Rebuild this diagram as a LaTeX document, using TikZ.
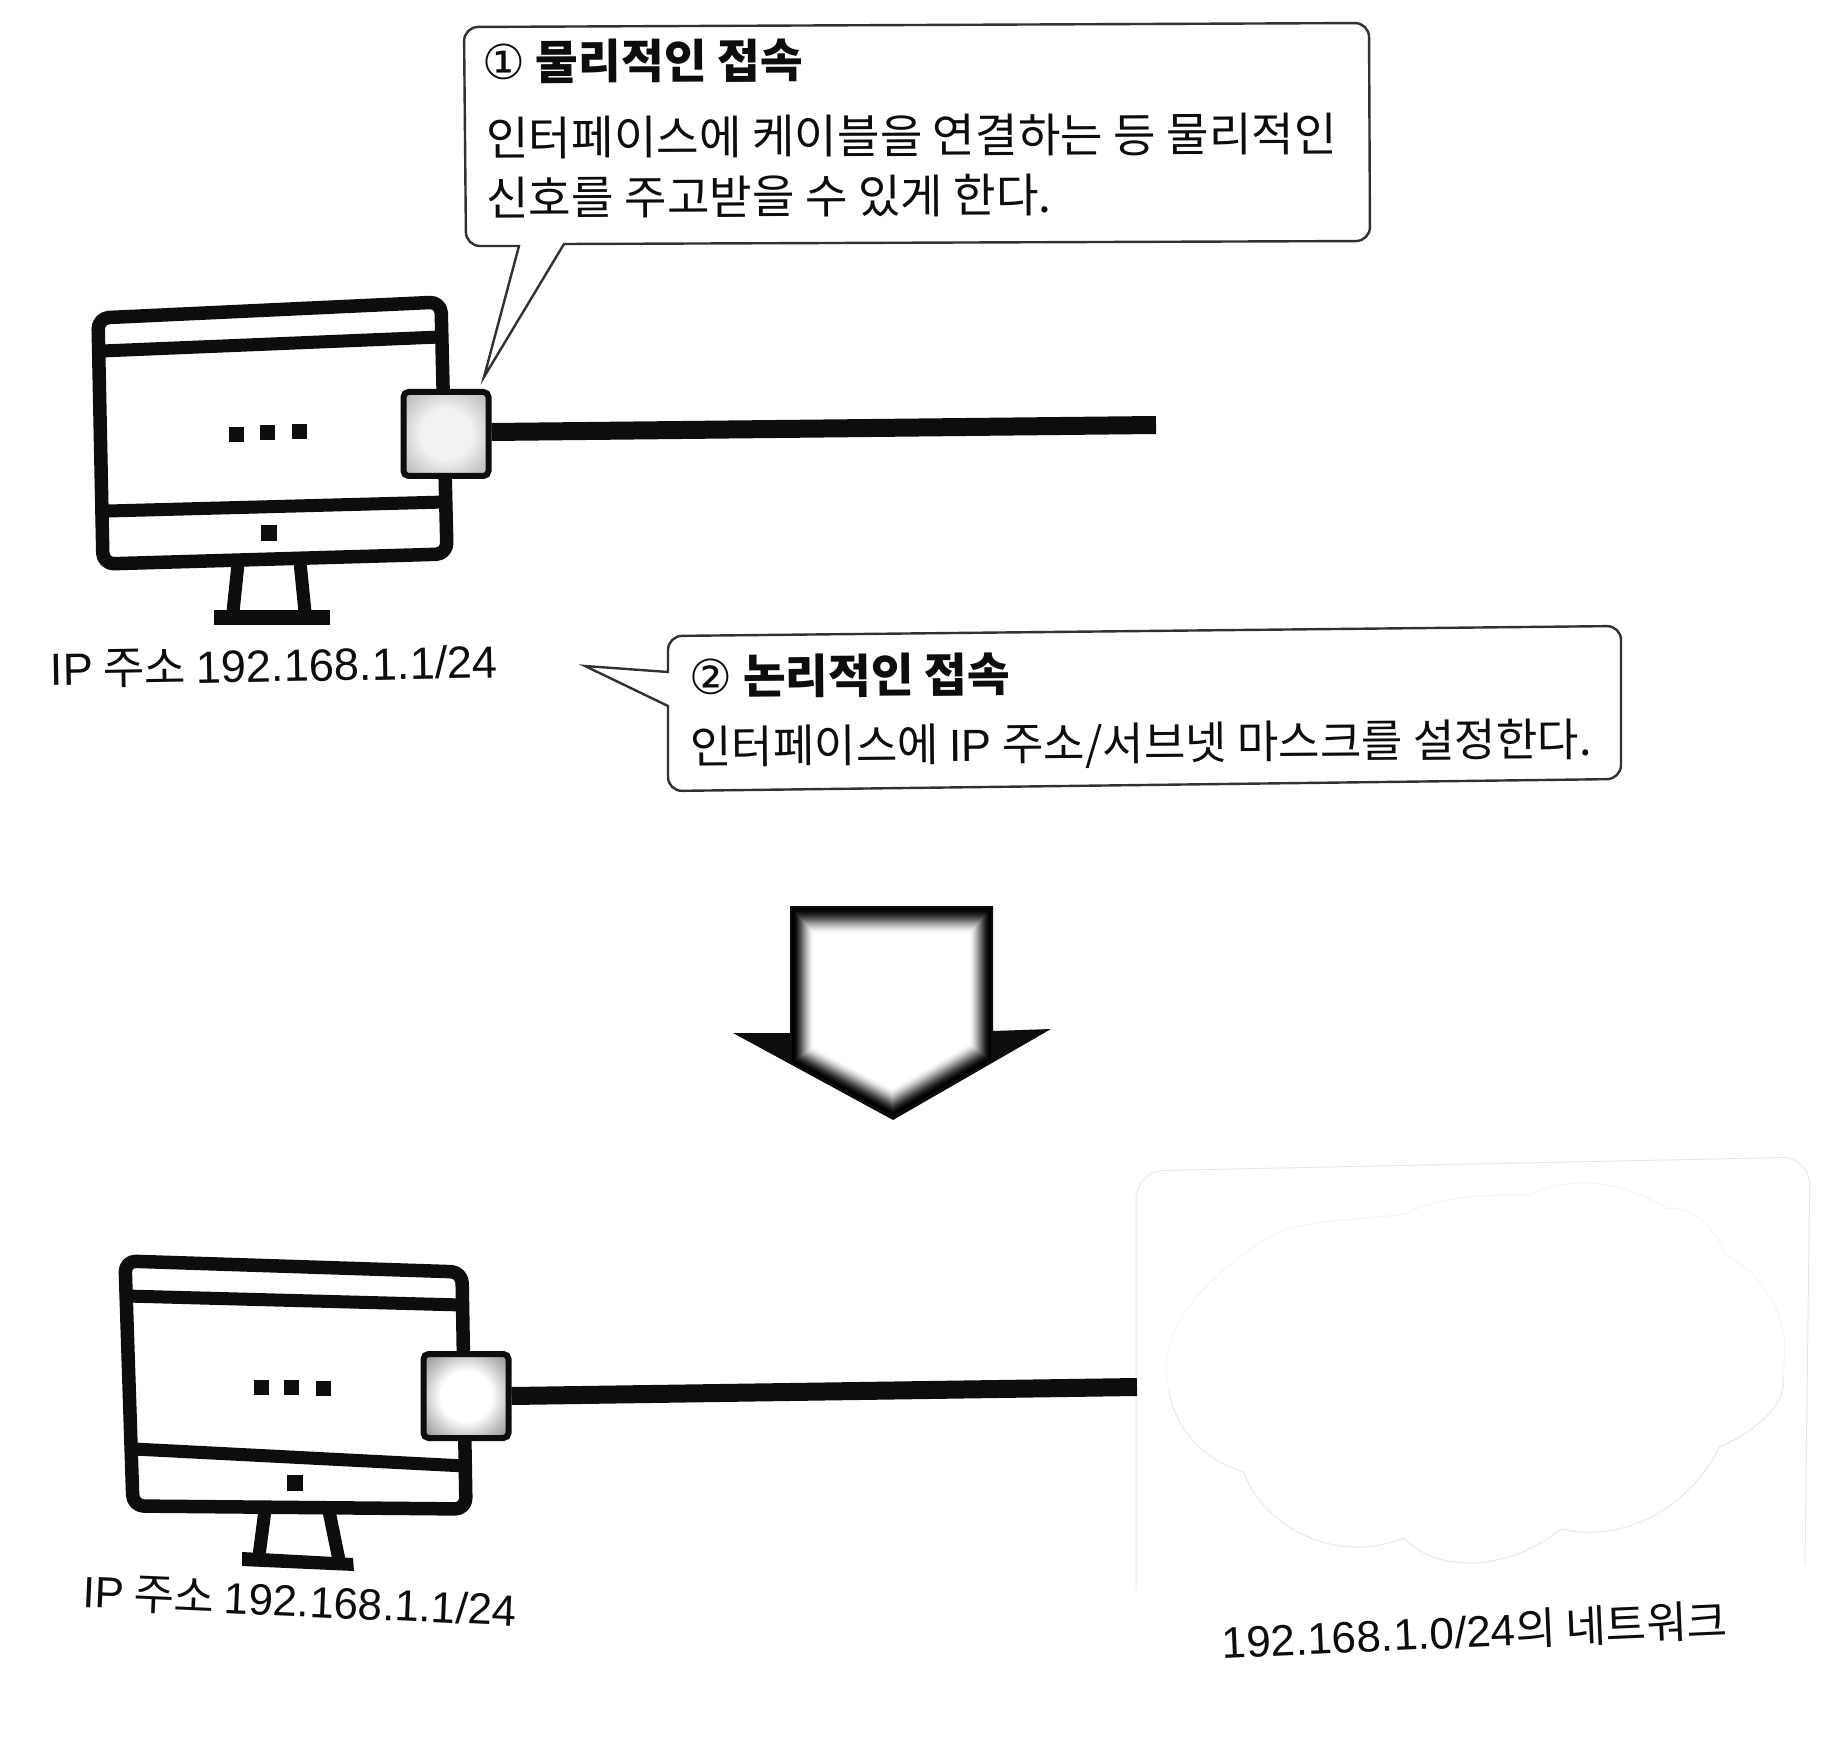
\documentclass[tikz,border=0pt]{standalone}
\usepackage{fontspec}
\setmainfont{Noto Sans CJK KR}
\newfontfamily\circfont{DejaVu Sans}
\newfontfamily\latfont{Liberation Sans}
\usetikzlibrary{calc}
\definecolor{ink}{gray}{0.05}
\definecolor{portA}{gray}{0.95}
\definecolor{portB}{gray}{0.82}
\definecolor{portC}{gray}{0.70}
\definecolor{portD}{gray}{1}
\definecolor{portE}{gray}{0.76}
\definecolor{portF}{gray}{0.55}
\pgfdeclareradialshading{portone}{\pgfpoint{0bp}{0bp}}{color(0bp)=(portA); color(15bp)=(portA); color(25bp)=(portB); color(35bp)=(portC); color(50bp)=(portC)}
\pgfdeclareradialshading{porttwo}{\pgfpoint{0bp}{0bp}}{color(0bp)=(portD); color(15bp)=(portD); color(25bp)=(portE); color(35bp)=(portF); color(50bp)=(portF)}
\tikzset{
  x=1pt,y=-1pt,
  bubble/.style={draw=ink!85,line width=2.4pt,fill=white,rounded corners=14pt},
  frame/.style={draw=ink,line width=13.5pt,rounded corners=11pt,line join=round},
  rail/.style={draw=ink,line width=13pt},
  dotmark/.style={fill=ink,draw=none,minimum size=15pt,inner sep=0pt},
  port/.style={draw=ink,line width=6pt,rounded corners=5pt,minimum width=85pt,minimum height=84pt,inner sep=0pt,shade},
  cable/.style={draw=ink,line width=18pt},
  faint/.style={draw=black!9,line width=1pt},
  fainter/.style={draw=black!4,line width=1pt},
  lab/.style={inner sep=0pt,font=\fontsize{46.3}{52}\selectfont,anchor=west,text=ink},
  head/.style={inner sep=0pt,font=\fontsize{46.5}{52}\selectfont\bfseries,anchor=west,text=ink},
}
\newcommand{\lt}[1]{{\latfont #1}}
\newcommand{\circmark}[1]{{\circfont\mdseries\fontsize{48}{52}\selectfont #1}}
\begin{document}
\begin{tikzpicture}
\useasboundingbox (0,0) rectangle (1824,1760);
\fill[white] (0,0) rectangle (1824,1760);
% callout 1
\draw[bubble] (464,27) -- (1369,23) -- (1370,241) [sharp corners] -- (564,244) -- (484,377) -- (519,246) [rounded corners=14pt] -- (466,246) -- cycle;
\node[head,rotate=0.3] (t1a) at (482,62) {\circmark{①} 물리적인 접속};
\node[lab,rotate=0.3] (t1b) at (486,138) {인터페이스에 케이블을 연결하는 등 물리적인};
\node[lab,rotate=0.3] (t1c) at (486,198) {신호를 주고받을 수 있게 한다.};
% monitor 1
\draw[frame] (98,318) -- (441,302) -- (447,554) -- (103,564) -- cycle;
\draw[rail] (102,351) -- (440,337);
\draw[rail] (108,511) -- (445,502);
\draw[rail] (238,564) -- (233,612);
\draw[rail] (300,562) -- (305,612);
\fill[ink] (214,610) rectangle (330,625);
\node[dotmark] (a1) at (236,435) {};
\node[dotmark] (a2) at (267,433) {};
\node[dotmark] (a3) at (299,432) {};
\node[dotmark,minimum size=16pt] (a4) at (269,533) {};
\coordinate (c1end) at (1156,425);
\node[port,shading=portone] (p1) at (446,434) {};
\draw[cable] ([yshift=2pt]p1.east) -- (c1end);
\node[lab,rotate=1,font=\fontsize{45.2}{52}\selectfont] (l1) at (50,670) {\lt{IP} 주소 \lt{192.168.1.1/24}};
% callout 2
\draw[bubble] (668,636) -- (1621,626) -- (1621,779) -- (668,791) [sharp corners] -- (668,706) -- (585,666) -- (668,672) [rounded corners=14pt] -- cycle;
\node[head,rotate=0.5] (t2a) at (689,677) {\circmark{②} 논리적인 접속};
\node[lab,rotate=0.5,font=\fontsize{45.1}{52}\selectfont] (t2b) at (690,749) {인터페이스에 \lt{IP} 주소/서브넷 마스크를 설정한다.};
% big arrow
\fill[ink] (790,906) -- (993,906) -- (993,1031) -- (1051,1029) -- (893,1120) -- (733,1033) -- (790,1033) -- cycle;
\foreach \k in {0,...,24}{
  \pgfmathsetmacro{\t}{\k/24}
  \pgfmathsetmacro{\g}{100*(1-(3*\t*\t-2*\t*\t*\t))}
  \fill[black!\g!white]
    ({792+\t*22},{908+\t*26}) -- ({991-\t*22},{908+\t*26}) -- ({991-\t*22},{1060-\t*17})
    -- ({893-\t*1},{1116-\t*28}) -- ({792+\t*22},{1062-\t*15}) -- cycle;
}
% network
\draw[faint,rounded corners=28pt] (1136,1590) -- (1136,1171) -- (1810,1157) -- (1805,1563);
\draw[faint] (1169,1390) .. controls (1175,1430) and (1205,1460) .. (1244,1472)
  .. controls (1255,1510) and (1320,1570) .. (1404,1538)
  .. controls (1440,1575) and (1510,1570) .. (1561,1529)
  .. controls (1630,1545) and (1695,1500) .. (1719,1447)
  .. controls (1760,1430) and (1790,1400) .. (1782,1374);
\draw[fainter] (1782,1374)
  .. controls (1795,1320) and (1760,1270) .. (1726,1256)
  .. controls (1710,1215) and (1680,1205) .. (1668,1209)
  .. controls (1620,1180) and (1570,1175) .. (1529,1195)
  .. controls (1490,1195) and (1440,1195) .. (1406,1214)
  .. controls (1360,1220) and (1300,1220) .. (1273,1235)
  .. controls (1230,1260) and (1150,1320) .. (1169,1390);
% monitor 2
\draw[frame] (125,1261) -- (462,1272) -- (466,1509) -- (133,1506) -- cycle;
\draw[rail] (126,1296) -- (462,1305);
\draw[rail] (134,1449) -- (465,1466);
\draw[rail] (265,1510) -- (259,1556);
\draw[rail] (329,1511) -- (339,1560);
\fill[ink] (242,1552) -- (353,1558) -- (354,1571) -- (242,1566) -- cycle;
\node[dotmark] (b1) at (261,1387) {};
\node[dotmark] (b2) at (291,1387) {};
\node[dotmark] (b3) at (323,1388) {};
\node[dotmark,minimum size=16pt] (b4) at (295,1483) {};
\coordinate (c2end) at (1137,1387);
\node[port,shading=porttwo] (p2) at (466,1396) {};
\draw[cable] (p2.east) -- (c2end);
\node[lab,rotate=-2.5,font=\fontsize{43.8}{52}\selectfont] (l2) at (83,1592) {\lt{IP} 주소 \lt{192.168.1.1/24}};
\node[lab,rotate=2.5,font=\fontsize{44}{52}\selectfont] (l3) at (1222,1642) {\lt{192.168.1.0/24}의 네트워크};
\end{tikzpicture}
\end{document}
